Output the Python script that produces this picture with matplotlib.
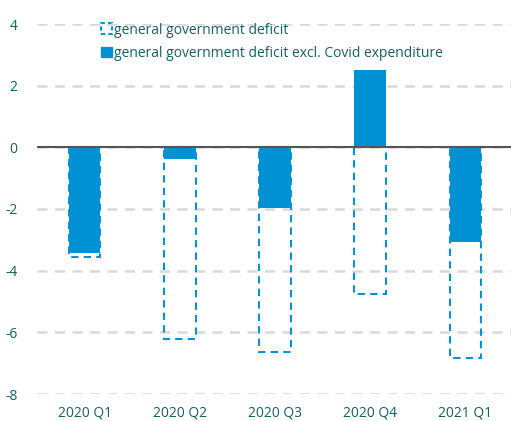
import matplotlib.pyplot as plt
import numpy as np
from matplotlib.patches import Patch

plt.rcParams['font.family'] = ['Open Sans', 'DejaVu Sans']

quarters = ['2020 Q1', '2020 Q2', '2020 Q3', '2020 Q4', '2021 Q1']
deficit = [-3.57, -6.23, -6.65, -4.75, -6.83]
deficit_excl_covid = [-3.42, -0.37, -1.98, 2.5, -3.08]

blue = '#0091d5'
teal = '#1b5e5e'

fig = plt.figure(figsize=(5.11, 4.21), dpi=100)
ax = fig.add_axes([37 / 511, 27 / 421, 476 / 511, 370 / 421])

x = np.arange(len(quarters))
width = 0.33

ax.bar(x, deficit, width=width, fill=False, edgecolor=blue, linestyle=(0, (3.5, 2.5)),
       linewidth=1.5, zorder=3)
ax.bar(x, deficit_excl_covid, width=width, color=blue, zorder=4)

ax.axhline(0, color='#555555', lw=1.5, zorder=5)
ax.set_ylim(-8, 4)
ax.set_xlim(-0.5, len(quarters) - 0.5)
ax.set_yticks(np.arange(-8, 5, 2))
ax.set_yticklabels([str(v) for v in range(-8, 5, 2)])
ax.yaxis.grid(True, color='#d9d9d9', lw=1.8, linestyle=(0, (4, 3)), zorder=0)
ax.set_xticks(x)
ax.set_xticklabels(quarters)
ax.tick_params(axis='both', length=0, labelcolor=teal, labelsize=10)
ax.tick_params(axis='y', pad=14)
ax.tick_params(axis='x', pad=8)
for s in ax.spines.values():
    s.set_visible(False)

handles = [
    Patch(facecolor='none', edgecolor=blue, linestyle=(0, (2, 1.5)), linewidth=1.5,
          label='general government deficit'),
    Patch(facecolor=blue, edgecolor=blue, label='general government deficit excl. Covid expenditure'),
]
leg = fig.legend(handles=handles, loc='upper left', bbox_to_anchor=(88 / 511, 1 - 10 / 421),
                 frameon=False, handlelength=0.8, handleheight=0.8, handletextpad=0.2,
                 labelspacing=0.6, fontsize=10)
for t in leg.get_texts():
    t.set_color(teal)

fig.savefig('out.png', dpi=100)
